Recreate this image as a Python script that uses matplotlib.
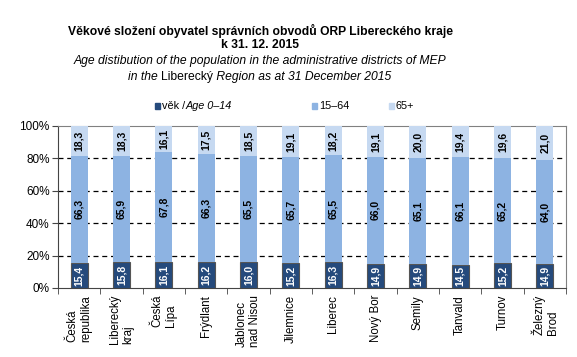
import matplotlib
matplotlib.use('Agg')
import matplotlib.pyplot as plt
import numpy as np

# Data
###############################################################################
districts = ['Česká\nrepublika', 'Liberecký\nkraj', 'Česká\nLípa', 'Frýdlant',
             'Jablonec\nnad Nisou', 'Jilemnice', 'Liberec', 'Nový Bor',
             'Semily', 'Tanvald', 'Turnov', 'Železný\nBrod']
age_0_14 = [15.4, 15.8, 16.1, 16.2, 16.0, 15.2, 16.3, 14.9, 14.9, 14.5, 15.2, 14.9]
age_15_64 = [66.3, 65.9, 67.8, 66.3, 65.5, 65.7, 65.5, 66.0, 65.1, 66.1, 65.2, 64.0]
age_65 = [18.3, 18.3, 16.1, 17.5, 18.5, 19.1, 18.2, 19.1, 20.0, 19.4, 19.6, 21.0]
yticks = [0, 20, 40, 60, 80, 100]

# Settings
###############################################################################
plt.rcParams['font.family'] = ['Liberation Sans', 'DejaVu Sans']
c_dark = '#254a7c'
c_mid = '#8db3e2'
c_light = '#c6d9f1'

fig = plt.figure(figsize=(5.77, 3.57), dpi=100)
ax = fig.add_axes([58 / 577, 1 - 288 / 357, 508 / 577, 162 / 357])

x = np.arange(len(districts))
w = 0.4
a = np.array(age_0_14)
b = np.array(age_15_64)
c = np.array(age_65)

ax.bar(x, a, w, color=c_dark, edgecolor='#555555', linewidth=0.8, zorder=3)
ax.bar(x, b, w, bottom=a, color=c_mid, linewidth=0, zorder=3)
ax.bar(x, c, w, bottom=a + b, color=c_light, linewidth=0, zorder=3)


def fmt(v):
    return '{:.1f}'.format(v).replace('.', ',')


for i in range(len(x)):
    ax.text(x[i], a[i] / 2, fmt(a[i]), rotation=90, ha='center', va='center',
            fontsize=7.5, fontweight='bold', color='white', zorder=4)
    ax.text(x[i], a[i] + b[i] / 2, fmt(b[i]), rotation=90, ha='center',
            va='center', fontsize=7.5, fontweight='bold', color='black', zorder=4)
    ax.text(x[i], a[i] + b[i] + c[i] / 2, fmt(c[i]), rotation=90, ha='center',
            va='center', fontsize=7.5, fontweight='bold', color='black', zorder=4)

ax.set_xlim(-0.5, len(x) - 0.5)
ax.set_ylim(0, 100)
ax.set_yticks(yticks)
ax.set_yticklabels(['{}%'.format(t) for t in yticks], fontsize=8.5)
for t in yticks[1:-1]:
    ax.axhline(t, color='black', linestyle=(0, (4, 3)), linewidth=0.9, zorder=1)

ax.set_xticks(x)
ax.set_xticklabels(districts, rotation=90, fontsize=8.3, va='top', ha='center',
                   multialignment='left')
ax.tick_params(axis='x', length=0, pad=5)
ax.set_xticks(np.arange(-0.5, len(x) + 0.5, 1), minor=True)
ax.tick_params(axis='x', which='minor', length=4, direction='out', color='#444444')
ax.tick_params(axis='y', length=4, direction='out', color='#444444', pad=2)

for s in ['left', 'bottom']:
    ax.spines[s].set_color('#444444')
for s in ['top', 'right']:
    ax.spines[s].set_color('#808080')

# Titles
###############################################################################
cx = 260 / 577
fs_title = 8.7
fig.text(cx, 1 - 31 / 357, 'Věkové složení obyvatel správních obvodů ORP Libereckého kraje',
         ha='center', va='center', fontsize=fs_title, fontweight='bold')
fig.text(cx, 1 - 45 / 357, 'k 31. 12. 2015', ha='center', va='center',
         fontsize=fs_title, fontweight='bold')
fig.text(cx, 1 - 61 / 357,
         'Age distibution of the population in the administrative districts of MEP',
         ha='center', va='center', fontsize=fs_title, style='italic')

# mixed italic / upright line
parts = [('in the ', 'italic'), ('Liberecký', 'normal'),
         (' Region as at 31 December 2015', 'italic')]
renderer = fig.canvas.get_renderer()
objs = []
for txt, st in parts:
    objs.append(fig.text(0, 1 - 77 / 357, txt, va='center', ha='left',
                         fontsize=fs_title, style=st))
widths = [o.get_window_extent(renderer).width for o in objs]
total = sum(widths)
xpos = cx * 577 - total / 2
for o, wd in zip(objs, widths):
    o.set_x(xpos / 577)
    xpos += wd

# Legend
###############################################################################
ly = 1 - 106 / 357
leg = [(155, c_dark, [('věk /', 'normal'), ('Age 0–14', 'italic')]),
       (312, c_mid, [('15–64', 'normal')]),
       (389, c_light, [('65+', 'normal')])]
for px, col, texts in leg:
    fig.patches.append(plt.Rectangle((px / 577, ly - 3 / 357), 5 / 577, 6 / 357,
                                     transform=fig.transFigure, color=col,
                                     edgecolor='none'))
    xpos = px + 7
    for txt, st in texts:
        t = fig.text(xpos / 577, ly, txt, va='center', ha='left', fontsize=7.8, style=st)
        xpos += t.get_window_extent(renderer).width

fig.savefig('out.png', dpi=100)
